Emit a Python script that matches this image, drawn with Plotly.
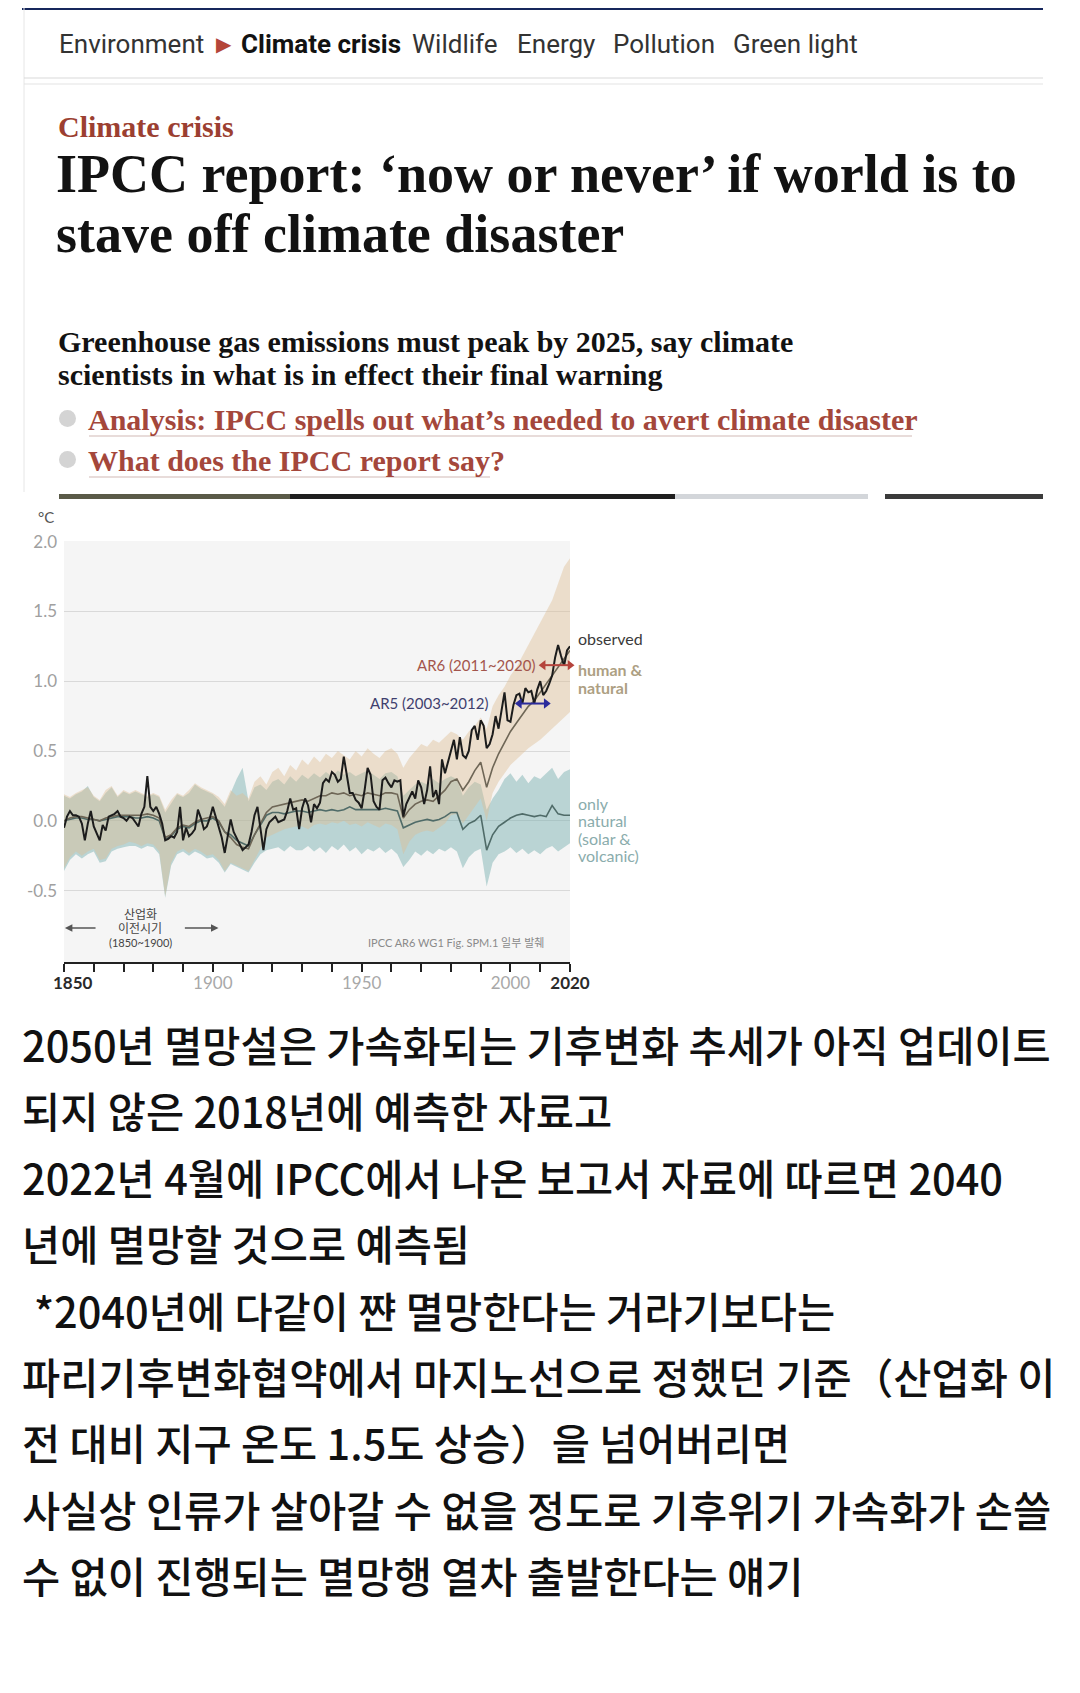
import plotly.graph_objects as go

W, H = 1080, 1693
OFF = 8  # page body margin of the html page

# ---------------- data ----------------
years_obs = list(range(1850, 2021))
observed = [
    -0.05, 0.03, 0.07, 0.04, 0.04, 0.03, -0.02, -0.14, -0.02, 0.07,
    -0.04, -0.09, -0.14, -0.03, -0.07, 0.03, 0.04, 0.05, 0.07, 0.03,
    0.02, 0.00, 0.03, 0.02, -0.01, -0.04, 0.05, 0.10, 0.32, 0.10,
    0.07, 0.10, 0.05, -0.02, -0.14, -0.13, -0.11, -0.12, -0.08, 0.10,
    -0.14, -0.05, -0.11, -0.09, -0.06, 0.08, 0.02, -0.06, -0.04, 0.02,
    0.10, 0.02, -0.04, -0.12, -0.23, -0.10, 0.01, -0.08, -0.12, -0.17,
    -0.21, -0.19, -0.17, -0.08, 0.04, 0.10, -0.07, -0.21, -0.06, -0.01,
    0.01, 0.03, -0.01, 0.00, 0.01, 0.07, 0.16, 0.08, 0.09, -0.06,
    0.09, 0.16, 0.11, -0.01, 0.12, 0.09, 0.13, 0.27, 0.30, 0.28,
    0.35, 0.33, 0.28, 0.30, 0.46, 0.33, 0.20, 0.20, 0.15, 0.13,
    0.09, 0.22, 0.38, 0.33, 0.14, 0.10, 0.08, 0.29, 0.31, 0.27,
    0.24, 0.29, 0.28, 0.29, 0.03, 0.12, 0.17, 0.21, 0.16, 0.29,
    0.24, 0.12, 0.22, 0.39, 0.17, 0.22, 0.12, 0.44, 0.34, 0.42,
    0.50, 0.58, 0.44, 0.60, 0.47, 0.45, 0.50, 0.65, 0.68, 0.58,
    0.72, 0.68, 0.52, 0.55, 0.62, 0.75, 0.66, 0.78, 0.92, 0.72,
    0.71, 0.83, 0.90, 0.91, 0.84, 0.95, 0.92, 0.93, 0.84, 0.94,
    1.00, 0.90, 0.93, 0.98, 1.04, 1.17, 1.26, 1.18, 1.11, 1.22,
    1.25,
]

years_sim = list(range(1850, 2021, 2))
hn_mean = [
    0.00, 0.02, 0.03, 0.03, 0.02, 0.01, 0.00, 0.02, 0.03, 0.04,
    0.04, 0.04, 0.04, 0.04, 0.05, 0.04, 0.02, -0.12, -0.10, -0.05,
    -0.03, -0.04, -0.01, 0.01, 0.02, 0.03, 0.00, -0.08, -0.12, -0.17,
    -0.19, -0.20, -0.10, -0.02, 0.06, 0.10, 0.11, 0.12, 0.13, 0.14,
    0.15, 0.14, 0.16, 0.18, 0.18, 0.20, 0.19, 0.20, 0.18, 0.19,
    0.18, 0.20, 0.19, 0.18, 0.20, 0.20, 0.19, 0.02, 0.08, 0.12,
    0.14, 0.15, 0.14, 0.18, 0.22, 0.28, 0.30, 0.22, 0.28, 0.36,
    0.42, 0.24, 0.38, 0.48, 0.56, 0.64, 0.70, 0.76, 0.82, 0.86,
    0.92, 0.98, 1.04, 1.10, 1.16, 1.22,
]
nat_mean = [
    0.00, 0.01, 0.02, 0.02, 0.01, 0.01, 0.00, 0.01, 0.02, 0.03,
    0.03, 0.03, 0.02, 0.02, 0.03, 0.02, 0.00, -0.13, -0.11, -0.06,
    -0.04, -0.05, -0.02, 0.00, 0.00, 0.02, -0.01, -0.08, -0.10, -0.14,
    -0.16, -0.18, -0.10, -0.03, 0.04, 0.06, 0.06, 0.05, 0.06, 0.07,
    0.07, 0.06, 0.07, 0.08, 0.07, 0.08, 0.07, 0.08, 0.10, 0.08,
    0.08, 0.08, 0.08, 0.08, 0.09, 0.08, 0.07, -0.05, -0.03, -0.01,
    0.00, 0.01, 0.00, 0.01, 0.03, 0.06, 0.06, -0.06, -0.02, 0.00,
    0.04, -0.21, -0.10, -0.04, -0.01, 0.02, 0.04, 0.05, 0.04, 0.03,
    0.04, 0.03, 0.11, 0.05, 0.04, 0.04,
]
hn_high = [
    0.19, 0.17, 0.20, 0.22, 0.24, 0.18, 0.15, 0.22, 0.25, 0.18,
    0.22, 0.20, 0.22, 0.20, 0.18, 0.20, 0.18, 0.08, 0.15, 0.20,
    0.18, 0.22, 0.27, 0.24, 0.22, 0.20, 0.17, 0.12, 0.22, 0.18,
    0.20, 0.16, 0.28, 0.32, 0.26, 0.35, 0.38, 0.32, 0.40, 0.36,
    0.44, 0.40, 0.46, 0.42, 0.48, 0.45, 0.50, 0.47, 0.44, 0.50,
    0.46, 0.52, 0.48, 0.45, 0.50, 0.52, 0.48, 0.38, 0.45, 0.50,
    0.55, 0.53, 0.58, 0.56, 0.60, 0.64, 0.62, 0.58, 0.64, 0.68,
    0.74, 0.66, 0.82, 0.90, 0.96, 1.04, 1.10, 1.18, 1.26, 1.34,
    1.42, 1.50, 1.58, 1.70, 1.82, 1.88,
]
hn_low = [
    -0.34, -0.26, -0.22, -0.25, -0.22, -0.20, -0.28, -0.27, -0.20, -0.18,
    -0.17, -0.15, -0.16, -0.18, -0.16, -0.17, -0.22, -0.54, -0.30, -0.22,
    -0.20, -0.23, -0.20, -0.22, -0.25, -0.24, -0.28, -0.36, -0.30, -0.32,
    -0.34, -0.36, -0.28, -0.20, -0.12, -0.10, -0.08, -0.06, -0.05, -0.04,
    -0.04, -0.06, -0.03, -0.02, -0.03, -0.01, -0.02, 0.00, -0.03, -0.02,
    -0.04, -0.01, -0.03, -0.05, -0.02, -0.03, -0.06, -0.24, -0.15, -0.10,
    -0.08, -0.07, -0.08, -0.05, -0.02, 0.04, 0.05, -0.02, 0.04, 0.10,
    0.16, 0.00, 0.20, 0.28, 0.34, 0.40, 0.44, 0.48, 0.52, 0.55,
    0.58, 0.62, 0.66, 0.70, 0.74, 0.78,
]
nat_high = [
    0.18, 0.16, 0.19, 0.21, 0.25, 0.17, 0.14, 0.20, 0.24, 0.17,
    0.21, 0.19, 0.21, 0.19, 0.17, 0.19, 0.17, 0.06, 0.13, 0.19,
    0.17, 0.20, 0.26, 0.23, 0.21, 0.19, 0.15, 0.10, 0.20, 0.30,
    0.38, 0.14, 0.24, 0.26, 0.22, 0.28, 0.30, 0.26, 0.32, 0.28,
    0.33, 0.30, 0.34, 0.31, 0.35, 0.32, 0.36, 0.33, 0.35, 0.32,
    0.34, 0.36, 0.33, 0.30, 0.34, 0.35, 0.32, 0.18, 0.22, 0.26,
    0.28, 0.26, 0.30, 0.27, 0.30, 0.32, 0.30, 0.18, 0.24, 0.28,
    0.26, 0.08, 0.16, 0.22, 0.30, 0.34, 0.28, 0.33, 0.27, 0.32,
    0.30, 0.34, 0.38, 0.30, 0.35, 0.37,
]
nat_low = [
    -0.36, -0.28, -0.24, -0.27, -0.24, -0.22, -0.30, -0.29, -0.22, -0.20,
    -0.19, -0.18, -0.18, -0.20, -0.18, -0.19, -0.24, -0.55, -0.32, -0.24,
    -0.22, -0.25, -0.22, -0.24, -0.27, -0.26, -0.30, -0.37, -0.31, -0.33,
    -0.35, -0.37, -0.30, -0.24, -0.21, -0.20, -0.19, -0.22, -0.18, -0.21,
    -0.21, -0.18, -0.22, -0.19, -0.23, -0.18, -0.21, -0.17, -0.22, -0.19,
    -0.24, -0.20, -0.22, -0.19, -0.23, -0.20, -0.24, -0.33, -0.28, -0.22,
    -0.25, -0.21, -0.24, -0.20, -0.22, -0.19, -0.22, -0.34, -0.26, -0.22,
    -0.20, -0.47, -0.30, -0.24, -0.22, -0.19, -0.23, -0.20, -0.24, -0.21,
    -0.24, -0.20, -0.18, -0.22, -0.19, -0.16,
]

ar6_years = [2011, 2020]
ar6_level = [1.115, 1.115]
ar5_years = [2003, 2012]
ar5_level = [0.84, 0.84]
preind_arrow_left = [1861.1, 1850.3]
preind_arrow_right = [1890.1, 1901.9]
preind_arrow_level = -0.768

y_ticks = [-0.5, 0.0, 0.5, 1.0, 1.5, 2.0]
y_tick_labels = ["-0.5", "0.0", "0.5", "1.0", "1.5", "2.0"]
x_ticks = list(range(1850, 2021, 10))
x_tick_labels = {
    1850: "\u00a0\u00a0\u00a0\u00a0<b><span style='color:#2a2a2a'>1850</span></b>",
    1900: "1900",
    1950: "1950",
    2000: "2000",
    2020: "<b><span style='color:#2a2a2a'>2020</span></b>",
}

nav_items = [
    ("Environment", 57, "#333333", False),
    ("\u25b6", 214, "#b4453a", False),
    ("Climate crisis", 239, "#121212", True),
    ("Wildlife", 410, "#333333", False),
    ("Energy", 515, "#333333", False),
    ("Pollution", 611, "#333333", False),
    ("Green light", 731, "#333333", False),
]
headline_lines = ["IPCC report: \u2018now or never\u2019 if world is to", "stave off climate disaster"]
standfirst_lines = ["Greenhouse gas emissions must peak by 2025, say climate",
                    "scientists in what is in effect their final warning"]
related_links = ["Analysis: IPCC spells out what\u2019s needed to avert climate disaster",
                 "What does the IPCC report say?"]
body_lines = [
    "2050년 멸망설은 가속화되는 기후변화 추세가 아직 업데이트",
    "되지 않은 2018년에 예측한 자료고",
    "2022년 4월에 IPCC에서 나온 보고서 자료에 따르면 2040",
    "년에 멸망할 것으로 예측됨",
    "*2040년에 다같이 쨘 멸망한다는 거라기보다는",
    "파리기후변화협약에서 마지노선으로 정했던 기준（산업화 이",
    "전 대비 지구 온도 1.5도 상승）을 넘어버리면",
    "사실상 인류가 살아갈 수 없을 정도로 기후위기 가속화가 손쓸",
    "수 없이 진행되는 멸망행 열차 출발한다는 얘기",
]

# ---------------- helpers ----------------
def px(x):
    return (x - OFF) / W

def py(y):
    return 1 - (y - OFF) / H

def A(text, x, y, size, color="#121212", family="Roboto", xanchor="left", yanchor="middle", weight=None):
    font = dict(size=size, color=color, family=family)
    if weight:
        font["weight"] = weight
    return dict(text=text, x=px(x), y=py(y), xref="paper", yref="paper",
                xanchor=xanchor, yanchor=yanchor, showarrow=False, font=font)

def rect(x0, y0, x1, y1, color):
    return dict(type="rect", xref="paper", yref="paper", x0=px(x0), x1=px(x1),
                y0=py(y1), y1=py(y0), fillcolor=color, line=dict(width=0), layer="below")

def hline(x0, x1, y, color, width=1):
    return dict(type="line", xref="paper", yref="paper", x0=px(x0), x1=px(x1),
                y0=py(y), y1=py(y), line=dict(color=color, width=width))

# ---------------- figure ----------------
fig = go.Figure()

TEAL = "rgba(115,172,172,0.45)"
TAN = "rgba(222,188,145,0.42)"

fig.add_trace(go.Scatter(x=years_sim, y=nat_low, mode="lines", line=dict(width=0),
                         hoverinfo="skip", showlegend=False))
fig.add_trace(go.Scatter(x=years_sim, y=nat_high, mode="lines", line=dict(width=0),
                         fill="tonexty", fillcolor=TEAL, hoverinfo="skip", showlegend=False))
fig.add_trace(go.Scatter(x=years_sim, y=hn_low, mode="lines", line=dict(width=0),
                         hoverinfo="skip", showlegend=False))
fig.add_trace(go.Scatter(x=years_sim, y=hn_high, mode="lines", line=dict(width=0),
                         fill="tonexty", fillcolor=TAN, hoverinfo="skip", showlegend=False))
fig.add_trace(go.Scatter(x=years_sim, y=nat_mean, mode="lines",
                         line=dict(color="#4f6b68", width=1.6), showlegend=False))
fig.add_trace(go.Scatter(x=years_sim, y=hn_mean, mode="lines",
                         line=dict(color="#6e6656", width=1.6), showlegend=False))
fig.add_trace(go.Scatter(x=years_obs, y=observed, mode="lines",
                         line=dict(color="#1c1c1c", width=2), showlegend=False))
fig.add_trace(go.Scatter(x=ar6_years, y=ar6_level, mode="lines+markers",
                         line=dict(color="#b5443c", width=2),
                         marker=dict(symbol=["triangle-left", "triangle-right"], size=9, color="#b5443c"),
                         showlegend=False, cliponaxis=False))
fig.add_trace(go.Scatter(x=ar5_years, y=ar5_level, mode="lines+markers",
                         line=dict(color="#2b2b9c", width=2),
                         marker=dict(symbol=["triangle-left", "triangle-right"], size=9, color="#2b2b9c"),
                         showlegend=False, cliponaxis=False))

annotations = []
shapes = []

# Guardian header
shapes.append(rect(22, OFF, 1043, 10, "#16275c"))
shapes.append(dict(type="line", xref="paper", yref="paper", x0=px(24), x1=px(24),
                   y0=py(492), y1=py(OFF), line=dict(color="#e6e6e6", width=1)))
for text, x, color, bold in nav_items:
    t = "<b>%s</b>" % text if bold else text
    size = 20 if text == "\u25b6" else 26
    annotations.append(A(t, x, 44, size, color, "Roboto"))
shapes.append(hline(24, 1043, 78, "#d9d9d9", 1))
shapes.append(hline(24, 1043, 84, "#e3e3e3", 1))

annotations.append(A("<b>Climate crisis</b>", 56, 127, 30, "#9c3f31", "Liberation Serif"))
annotations.append(A("<b>%s</b>" % headline_lines[0], 54, 174, 54, "#121212", "Liberation Serif"))
annotations.append(A("<b>%s</b>" % headline_lines[1], 54, 234, 54, "#121212", "Liberation Serif"))
annotations.append(A("<b>%s</b>" % standfirst_lines[0], 56, 342, 30, "#121212", "Liberation Serif"))
annotations.append(A("<b>%s</b>" % standfirst_lines[1], 56, 374, 30, "#121212", "Liberation Serif"))
for i, (txt, yy, xe) in enumerate(zip(related_links, [419, 460], [912, 490])):
    shapes.append(dict(type="circle", xref="paper", yref="paper",
                       x0=px(59), x1=px(76), y0=py(yy + 8), y1=py(yy - 9),
                       fillcolor="#d4d4d4", line=dict(width=0)))
    annotations.append(A("<b>%s</b>" % txt, 86, yy, 30, "#a4473b", "Liberation Serif"))
    shapes.append(hline(89, xe, yy + 17, "#e8dcda", 2))

# photo strip
shapes.append(rect(59, 494, 290, 499, "#5a5a48"))
shapes.append(rect(290, 494, 675, 499, "#1f1f1f"))
shapes.append(rect(675, 494, 868, 499, "#d3d6da"))
shapes.append(rect(885, 494, 1043, 499, "#3b3b3b"))

# chart labels
annotations.append(A("°C", 46, 517, 15, "#555555", "Lato", xanchor="center"))
annotations.append(A("observed", 576, 638, 16, "#3a3a3a", "Lato"))
annotations.append(A("<b>human &</b>", 576, 670, 16, "#ad9f83", "Lato"))
annotations.append(A("<b>natural</b>", 576, 687, 16, "#ad9f83", "Lato"))
for i, t in enumerate(["only", "natural", "(solar &", "volcanic)"]):
    annotations.append(A(t, 576, 803 + i * 17.6, 16, "#8aacac", "Lato"))
annotations.append(A("AR6 (2011~2020)", 537, 665, 15, "#a3554c", "Lato", xanchor="right"))
annotations.append(A("AR5 (2003~2012)", 490, 703, 15, "#3f3f6e", "Lato", xanchor="right"))
annotations.append(A("산업화", 140, 913, 12, "#444444", "Noto Sans CJK KR", xanchor="center"))
annotations.append(A("이전시기", 140, 927, 12, "#444444", "Noto Sans CJK KR", xanchor="center"))
annotations.append(A("(1850~1900)", 140, 942, 11, "#444444", "Lato", xanchor="center"))
annotations.append(A("IPCC AR6 WG1 Fig. SPM.1 일부 발췌", 456, 942, 11, "#8a8a8a",
                     "Lato, Noto Sans CJK KR", xanchor="center"))
annotations.append(dict(x=preind_arrow_left[1], y=preind_arrow_level, ax=preind_arrow_left[0],
                        ay=preind_arrow_level, xref="x", yref="y", axref="x", ayref="y",
                        text="", showarrow=True, arrowhead=2, arrowsize=1, arrowwidth=1.5,
                        arrowcolor="#555555"))
annotations.append(dict(x=preind_arrow_right[1], y=preind_arrow_level, ax=preind_arrow_right[0],
                        ay=preind_arrow_level, xref="x", yref="y", axref="x", ayref="y",
                        text="", showarrow=True, arrowhead=2, arrowsize=1, arrowwidth=1.5,
                        arrowcolor="#555555"))

# Korean body
body_y = [1044, 1110, 1177, 1243, 1310, 1376, 1442, 1509, 1575]
for i, (t, yy) in enumerate(zip(body_lines, body_y)):
    annotations.append(A(t, 32 if i == 4 else 20, yy, 41.5, "#111111", "Noto Sans CJK KR", weight=500))

fig.update_layout(
    width=W, height=H,
    margin=dict(l=0, r=0, t=0, b=0, pad=0, autoexpand=False),
    paper_bgcolor="white",
    plot_bgcolor="#f5f5f5",
    showlegend=False,
    xaxis=dict(
        domain=[px(64), px(570)], range=[1850, 2020], automargin=False,
        tickmode="array", tickvals=x_ticks,
        ticktext=[x_tick_labels.get(v, "") for v in x_ticks],
        ticks="outside", ticklen=8, tickwidth=1.5, tickcolor="#222222",
        ticklabelstandoff=-3,
        showline=True, linecolor="#222222", linewidth=2,
        showgrid=False, zeroline=False,
        tickfont=dict(family="Lato", size=17, color="#a8a8a8"),
    ),
    yaxis=dict(
        domain=[py(962), py(541)], range=[-1.011, 2.004], automargin=False,
        tickmode="array", tickvals=y_ticks, ticktext=y_tick_labels,
        showgrid=True, gridcolor="#d9d9d9", gridwidth=1,
        zeroline=False, showline=False, ticks="", ticklabelstandoff=6,
        tickfont=dict(family="Lato", size=17, color="#a0a0a0"),
    ),
    annotations=annotations,
    shapes=shapes,
)

fig.write_html("out.html")
